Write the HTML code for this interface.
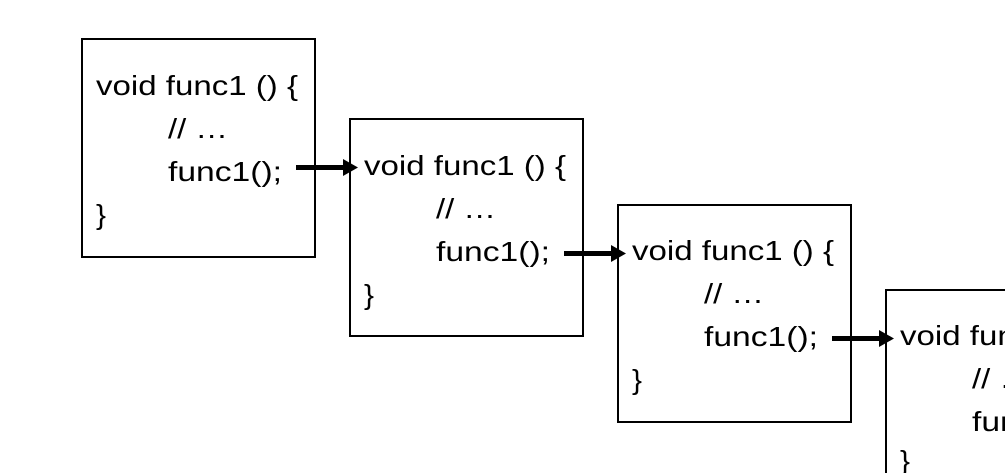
<!DOCTYPE html>
<html><head><meta charset="utf-8"><style>
html,body{margin:0;padding:0;background:#fff;width:1005px;height:473px;overflow:hidden}
svg{display:block}
text{font-family:"Liberation Sans",sans-serif;font-size:28px;fill:#000}
</style></head><body>
<svg width="1005" height="473" viewBox="0 0 1005 473" xmlns="http://www.w3.org/2000/svg">
<g transform="translate(82,39)">
<rect x="0" y="0" width="233" height="218" fill="#fff" stroke="#000" stroke-width="2"/>
<text x="14" y="56" textLength="202" lengthAdjust="spacingAndGlyphs">void func1 () {</text>
<text x="86" y="99" textLength="60" lengthAdjust="spacingAndGlyphs">// …</text>
<text x="86" y="142" textLength="114" lengthAdjust="spacingAndGlyphs">func1();</text>
<text x="14" y="185" textLength="10" lengthAdjust="spacingAndGlyphs">}</text>
</g>
<g transform="translate(350,119)">
<rect x="0" y="0" width="233" height="217" fill="#fff" stroke="#000" stroke-width="2"/>
<text x="14" y="56" textLength="202" lengthAdjust="spacingAndGlyphs">void func1 () {</text>
<text x="86" y="99" textLength="60" lengthAdjust="spacingAndGlyphs">// …</text>
<text x="86" y="142" textLength="114" lengthAdjust="spacingAndGlyphs">func1();</text>
<text x="14" y="185" textLength="10" lengthAdjust="spacingAndGlyphs">}</text>
</g>
<g transform="translate(618,205)">
<rect x="0" y="0" width="233" height="217" fill="#fff" stroke="#000" stroke-width="2"/>
<text x="14" y="55" textLength="202" lengthAdjust="spacingAndGlyphs">void func1 () {</text>
<text x="86" y="98" textLength="60" lengthAdjust="spacingAndGlyphs">// …</text>
<text x="86" y="141" textLength="114" lengthAdjust="spacingAndGlyphs">func1();</text>
<text x="14" y="184" textLength="10" lengthAdjust="spacingAndGlyphs">}</text>
</g>
<g transform="translate(886,290)">
<rect x="0" y="0" width="233" height="217" fill="#fff" stroke="#000" stroke-width="2"/>
<text x="14" y="55" textLength="202" lengthAdjust="spacingAndGlyphs">void func1 () {</text>
<text x="86" y="98" textLength="60" lengthAdjust="spacingAndGlyphs">// …</text>
<text x="86" y="141" textLength="114" lengthAdjust="spacingAndGlyphs">func1();</text>
<text x="14" y="180" textLength="10" lengthAdjust="spacingAndGlyphs">}</text>
</g>
<g fill="#000">
<rect x="296" y="165" width="48" height="5"/><polygon points="343,159 358,167.5 343,176"/>
<rect x="564" y="251" width="48" height="5"/><polygon points="611,245 626,253.5 611,262"/>
<rect x="832" y="336" width="48" height="5"/><polygon points="879,330 894,338.5 879,347"/>
</g>
</svg>
</body></html>
